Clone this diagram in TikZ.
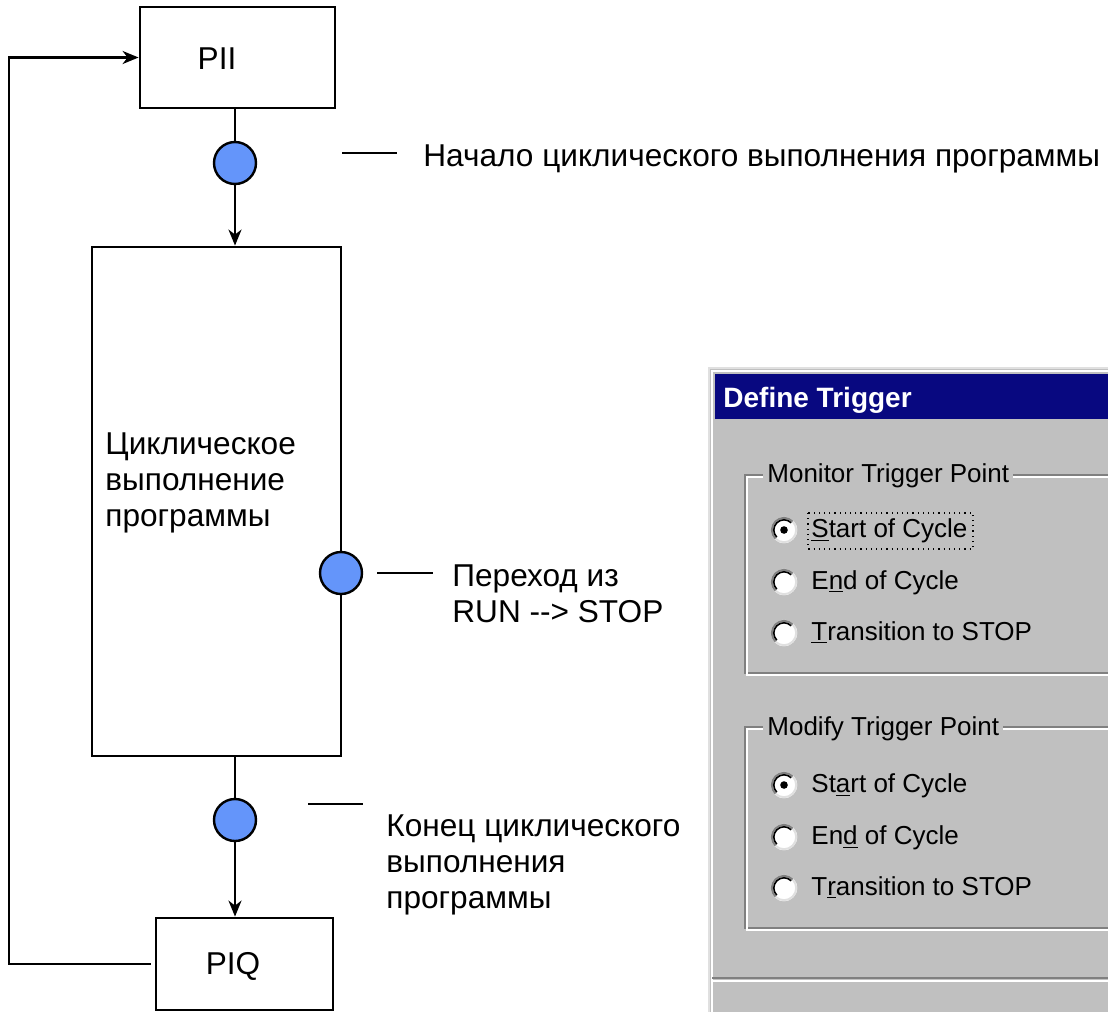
\documentclass[tikz,border=0pt]{standalone}
\usepackage{fontspec}
\setmainfont{Liberation Sans}
\usetikzlibrary{arrows.meta}

\definecolor{markblue}{RGB}{100,149,250}
\definecolor{dlggray}{RGB}{192,192,192}
\definecolor{dlgdark}{RGB}{128,128,128}
\definecolor{titlenavy}{RGB}{8,8,128}

\tikzset{
  box/.style={draw, line width=1.4pt, inner sep=0pt},
  marker/.style={circle, draw, fill=markblue, line width=1.2pt, minimum size=21pt, inner sep=0pt},
  txt/.style={font=\fontsize{15.8}{18}\selectfont, inner sep=0pt, align=left},
  dlgtxt/.style={font=\fontsize{13}{15}\selectfont, inner sep=0pt, anchor=base west},
  conn/.style={line width=1.2pt},
}

\begin{document}
\begin{tikzpicture}[x=0.5pt,y=-0.5pt,>={Stealth[length=8pt,width=6.5pt,inset=2.5pt]}]
    \useasboundingbox (0,0) rectangle (1108,1012);

    % cycle blocks
    \node[box, minimum width=97.5pt, minimum height=50.5pt] (pii) at (237.5,57.5) {};
    \node[txt] (piitext) at (217,58.5) {PII};
    \node[box, minimum width=124.5pt, minimum height=254.5pt] (cyc) at (216.5,501.5) {};
    \node[txt, anchor=north west] (cyctext) at (105,432) {Циклическое\\выполнение\\программы};
    \node[box, minimum width=88.5pt, minimum height=46pt] (piq) at (244.5,964) {};
    \node[txt] (piqtext) at (233,966.5) {PIQ};

    % trigger points
    \node[marker] (m1) at (235,163) {};
    \node[marker] (m2) at (341,573) {};
    \node[marker] (m3) at (235,820) {};

    \draw[conn] (m1 |- pii.south) -- (m1);
    \draw[conn,->] (m1) -- (m1 |- cyc.north);
    \draw[conn] (m3 |- cyc.south) -- (m3);
    \draw[conn,->] (m3) -- (m3 |- piq.north);
    \coordinate (loopx) at (13,0);
    \draw[conn,->] ([xshift=-2pt]piq.west) -- ([xshift=-2pt]piq.west -| loopx) |- (pii.west);

    % labels
    \coordinate (l1a) at (342,153);
    \coordinate (l1b) at (397,153);
    \draw[line width=1pt] (l1a) -- (l1b);
    \node[txt, anchor=base west] (lab1) at (423,166) {Начало циклического выполнения программы};

    \coordinate (l2a) at (377,573);
    \coordinate (l2b) at (433,573);
    \draw[line width=1pt] (l2a) -- (l2b);
    \node[txt, anchor=north west] (lab2) at (452,564) {Переход из\\RUN -{}-{}> STOP};

    \coordinate (l3a) at (308,804);
    \coordinate (l3b) at (363,804);
    \draw[line width=1pt] (l3a) -- (l3b);
    \node[txt, anchor=north west] (lab3) at (386,814) {Конец циклического\\выполнения\\программы};

    % dialog window
    \fill[dlggray] (708,367) rectangle (1108,1012);
    \draw[white!88!black, line width=1pt] (709,1012) -- (709,368) -- (1108,368);
    \draw[white, line width=1pt] (712,1012) -- (712,371) -- (1108,371);
    \fill[titlenavy] (715,374) rectangle (1108,419);
    \node[dlgtxt, font=\fontsize{14}{16}\bfseries\selectfont, text=white] (dlgtitle) at (723,407) {Define Trigger};

    % group frames
    \draw[dlgdark, line width=1pt] (1108,475) -- (745,475) -- (745,673) -- (1108,673);
    \draw[white, line width=1pt] (1108,477) -- (747,477) -- (747,675) -- (1108,675);
    \node[dlgtxt, fill=dlggray, inner xsep=2pt, inner ysep=2pt] (mongrp) at (763,482) {Monitor Trigger Point};
    \draw[dlgdark, line width=1pt] (1108,727) -- (745,727) -- (745,928) -- (1108,928);
    \draw[white, line width=1pt] (1108,729) -- (747,729) -- (747,930) -- (1108,930);
    \node[dlgtxt, fill=dlggray, inner xsep=2pt, inner ysep=2pt] (modgrp) at (763,735) {Modify Trigger Point};

    % radio buttons
    \foreach \ry in {530,582,633,785,837,888} {
        \fill[white] (784,\ry) circle[radius=6.6pt];
        \draw[white!88!black, line width=1pt] ([shift={(225:6.1pt)}]784,\ry) arc[start angle=225, end angle=405, radius=6.1pt];
        \draw[dlgdark, line width=1pt] ([shift={(45:6.1pt)}]784,\ry) arc[start angle=45, end angle=225, radius=6.1pt];
        \draw[black, line width=0.8pt] ([shift={(45:5.1pt)}]784,\ry) arc[start angle=45, end angle=225, radius=5.1pt];
    }
    \foreach \ry in {530,785}
        \fill (784,\ry) circle[radius=1.9pt];

    \node[dlgtxt] (monstart) at (811,537) {\underline{S}tart of Cycle};
    \node[dlgtxt] (monend) at (811,589) {E\underline{n}d of Cycle};
    \node[dlgtxt] (monstop) at (811,640) {\underline{T}ransition to STOP};
    \draw[dotted, line width=0.6pt] (808,513) rectangle (973,549);

    \node[dlgtxt] (modstart) at (811,792) {St\underline{a}rt of Cycle};
    \node[dlgtxt] (modend) at (811,844) {En\underline{d} of Cycle};
    \node[dlgtxt] (modstop) at (811,895) {T\underline{r}ansition to STOP};

    % separator
    \draw[dlgdark, line width=1pt] (712,978) -- (1108,978);
    \draw[white, line width=1pt] (712,981) -- (1108,981);
\end{tikzpicture}
\end{document}
